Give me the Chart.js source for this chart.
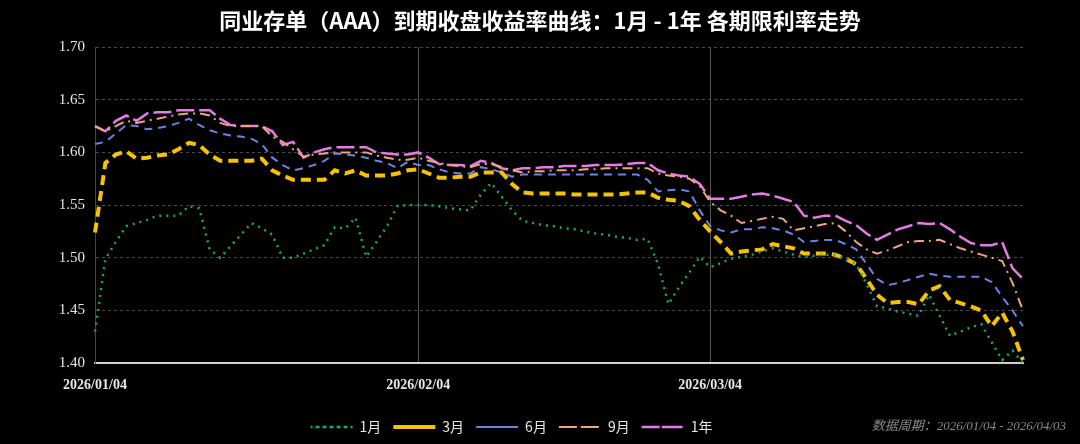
<!DOCTYPE html>
<html><head><meta charset="utf-8">
<script src="https://cdn.jsdelivr.net/npm/chart.js@4"></script>
<style>html,body{margin:0;padding:0;background:#000;}#w{width:1080px;height:444px;position:relative;}</style>
</head><body><div id="w"><canvas id="c"></canvas></div>
<script>
const title = '同业存单（AAA）到期收盘收益率曲线：1月 - 1年 各期限利率走势';
const sourceNote = '数据周期：2026/01/04 - 2026/04/03';
const startDate = '2026-01-04';
const dayCount = 90;
const tickLabels = ['2026/01/04','2026/02/04','2026/03/04'];
const seriesNames = ['1月','3月','6月','9月','1年'];
const m1 = [1.43,1.499,1.515,1.53,1.533,1.536,1.54,1.54,1.54,1.549,1.547,1.508,1.5,1.511,1.522,1.533,1.528,1.522,1.5,1.5,1.504,1.508,1.512,1.529,1.528,1.538,1.501,1.515,1.53,1.549,1.55,1.55,1.55,1.549,1.547,1.546,1.545,1.56,1.571,1.558,1.545,1.535,1.533,1.531,1.53,1.528,1.527,1.525,1.523,1.522,1.52,1.519,1.517,1.518,1.494,1.456,1.472,1.486,1.501,1.491,1.495,1.499,1.501,1.503,1.506,1.509,1.506,1.503,1.501,1.502,1.503,1.503,1.499,1.494,1.475,1.454,1.452,1.449,1.447,1.445,1.465,1.445,1.426,1.43,1.434,1.437,1.42,1.403,1.412,1.40];
const m3 = [1.524,1.59,1.598,1.601,1.594,1.595,1.597,1.598,1.603,1.609,1.607,1.598,1.592,1.592,1.592,1.592,1.594,1.583,1.578,1.574,1.574,1.574,1.574,1.583,1.58,1.583,1.578,1.578,1.578,1.58,1.583,1.584,1.58,1.576,1.576,1.577,1.577,1.581,1.581,1.581,1.57,1.562,1.561,1.561,1.561,1.561,1.56,1.56,1.56,1.56,1.56,1.561,1.562,1.562,1.557,1.555,1.554,1.549,1.536,1.525,1.515,1.504,1.506,1.507,1.508,1.513,1.511,1.509,1.504,1.504,1.504,1.503,1.499,1.494,1.48,1.465,1.457,1.458,1.458,1.456,1.469,1.473,1.46,1.457,1.454,1.45,1.435,1.448,1.43,1.403];
const m6 = [1.608,1.61,1.618,1.626,1.625,1.622,1.623,1.625,1.628,1.632,1.626,1.621,1.618,1.616,1.615,1.613,1.608,1.595,1.588,1.583,1.585,1.588,1.592,1.599,1.598,1.597,1.595,1.592,1.59,1.585,1.591,1.588,1.588,1.584,1.581,1.58,1.58,1.586,1.584,1.581,1.577,1.579,1.579,1.579,1.579,1.579,1.579,1.579,1.579,1.579,1.579,1.579,1.579,1.574,1.563,1.564,1.565,1.563,1.545,1.53,1.526,1.524,1.527,1.527,1.529,1.528,1.526,1.522,1.515,1.516,1.517,1.517,1.513,1.508,1.494,1.48,1.474,1.476,1.479,1.482,1.485,1.483,1.482,1.482,1.482,1.482,1.477,1.463,1.45,1.435];
const m9 = [1.625,1.62,1.625,1.63,1.628,1.63,1.632,1.634,1.636,1.637,1.637,1.635,1.628,1.625,1.625,1.625,1.625,1.615,1.61,1.603,1.596,1.598,1.599,1.6,1.6,1.6,1.6,1.597,1.595,1.593,1.593,1.595,1.592,1.59,1.588,1.587,1.586,1.589,1.589,1.586,1.583,1.581,1.582,1.582,1.583,1.583,1.583,1.584,1.584,1.585,1.585,1.585,1.585,1.585,1.58,1.578,1.577,1.575,1.568,1.553,1.545,1.54,1.533,1.535,1.537,1.539,1.537,1.526,1.528,1.53,1.532,1.533,1.525,1.515,1.508,1.504,1.507,1.511,1.515,1.516,1.516,1.517,1.513,1.509,1.506,1.503,1.5,1.497,1.476,1.45];
const y1 = [1.625,1.62,1.63,1.635,1.63,1.637,1.638,1.638,1.64,1.64,1.64,1.64,1.632,1.626,1.625,1.625,1.625,1.62,1.607,1.61,1.595,1.6,1.603,1.605,1.605,1.605,1.605,1.6,1.599,1.598,1.598,1.6,1.595,1.589,1.588,1.588,1.587,1.592,1.59,1.585,1.583,1.585,1.585,1.586,1.586,1.587,1.587,1.587,1.588,1.588,1.588,1.589,1.59,1.59,1.583,1.58,1.578,1.577,1.57,1.556,1.556,1.556,1.558,1.56,1.561,1.559,1.556,1.553,1.54,1.538,1.54,1.54,1.535,1.531,1.523,1.517,1.522,1.527,1.53,1.533,1.532,1.533,1.527,1.52,1.514,1.512,1.512,1.515,1.49,1.48];

const labels = [];
{ const d0 = new Date(startDate + 'T00:00:00Z');
  for (let i = 0; i < dayCount; i++) { const d = new Date(d0.getTime() + i*86400000);
    labels.push(d.getUTCFullYear()+'/'+String(d.getUTCMonth()+1).padStart(2,'0')+'/'+String(d.getUTCDate()).padStart(2,'0')); } }

const styles = [
  {color:'#19a87c', width:2.5, dash:[2,5]},
  {color:'#f7c300', width:4, dash:[10,6]},
  {color:'#6e82e6', width:2, dash:[8,6]},
  {color:'#f2a47a', width:2, dash:[10,5,2,5]},
  {color:'#e67ae6', width:2.5, dash:[18,5]}
];
const seriesData = [m1,m3,m6,m9,y1];
const datasets = seriesNames.map((n,i)=>({label:n, data:seriesData[i], borderColor:styles[i].color, backgroundColor:styles[i].color,
  borderWidth:styles[i].width, borderDash:styles[i].dash, pointRadius:0, tension:0, fill:false}));

const textPlugin = {id:'texts', afterDraw(ch){ const c=ch.ctx; c.save();
  c.font='bold 22px "Noto Sans CJK SC"'; c.fillStyle='#ffffff'; c.textAlign='center'; c.textBaseline='middle';
  c.fillText(title, 540, 21);
  c.font='italic 13px "Liberation Serif", "Noto Sans CJK SC"';
  c.fillStyle='#8a8a8a'; c.textAlign='right'; c.fillText(sourceNote, 1066, 427); c.restore(); }};

new Chart(document.getElementById('c'), {
  type:'line',
  data:{labels, datasets},
  plugins:[textPlugin],
  options:{
    responsive:true, maintainAspectRatio:false, animation:false,
    layout:{padding:{left:0,right:57,top:47,bottom:0}},
    plugins:{
      title:{display:false},
      legend:{position:'bottom', labels:{color:'#e8e8e8', boxWidth:42, boxHeight:0, padding:12,
        font:{family:'"Noto Sans CJK SC"', size:14}}},
      tooltip:{enabled:false}
    },
    scales:{
      x:{
        grid:{color:(ctx)=>tickLabels.includes(labels[ctx.index])?'#555':'rgba(0,0,0,0)', drawTicks:false},
        border:{display:true, color:'#cfcfcf', width:2},
        ticks:{autoSkip:false, maxRotation:0, color:'#e6e6e6', padding:14,
          font:{family:'"Liberation Serif"', size:14, weight:'bold'},
          callback:(v,i)=>tickLabels.includes(labels[i])?labels[i]:''}
      },
      y:{
        min:1.40, max:1.70,
        afterFit:(s)=>{s.width=95;},
        grid:{color:'#4a4a4a', drawTicks:false},
        border:{display:true, color:'#444', dash:[3,3]},
        ticks:{stepSize:0.05, color:'#e6e6e6', padding:10, font:{family:'"Liberation Serif"', size:15},
          callback:(v)=>Number(v).toFixed(2)}
      }
    }
  }
});
</script></body></html>
